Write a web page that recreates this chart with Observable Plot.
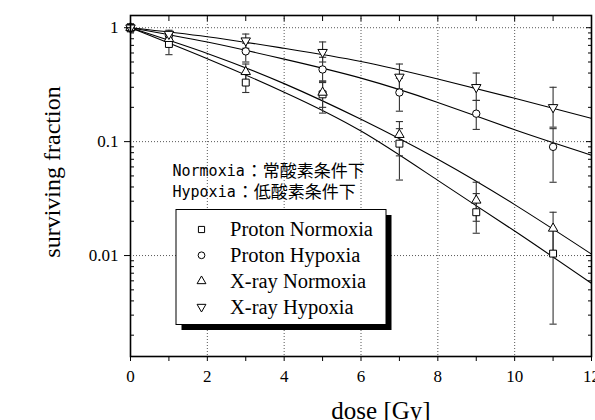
<!DOCTYPE html>
<html><head><meta charset="utf-8">
<script src="https://cdn.jsdelivr.net/npm/d3@7"></script>
<script src="https://cdn.jsdelivr.net/npm/@observablehq/plot@0.6"></script>
<style>body{margin:0;background:#fff}</style>
</head><body><div id="chart"></div>
<script>
// ---- data ----
const doses = [0, 1, 3, 5, 7, 9, 11];
const seriesNames = ["Proton Normoxia", "Proton Hypoxia", "X-ray Normoxia", "X-ray Hypoxia"];

const protonNormoxia   = [1.0, 0.72, 0.33, 0.26, 0.096, 0.024, 0.0104];
const protonNormoxiaLo = [0.92, 0.58, 0.27, 0.178, 0.046, 0.0157, 0.0025];
const protonNormoxiaHi = [1.08, 0.91, 0.40, 0.33, 0.13, 0.035, 0.017];

const protonHypoxia   = [1.0, 0.85, 0.62, 0.43, 0.27, 0.176, 0.090];
const protonHypoxiaLo = [0.93, 0.78, 0.50, 0.34, 0.185, 0.128, 0.044];
const protonHypoxiaHi = [1.07, 0.93, 0.73, 0.55, 0.36, 0.23, 0.13];

const xrayNormoxia   = [1.0, 0.80, 0.41, 0.27, 0.115, 0.0305, 0.0173];
const xrayNormoxiaLo = [0.93, 0.70, 0.34, 0.20, 0.075, 0.020, 0.011];
const xrayNormoxiaHi = [1.07, 0.88, 0.48, 0.34, 0.15, 0.044, 0.024];

const xrayHypoxia   = [1.0, 0.88, 0.77, 0.61, 0.37, 0.30, 0.20];
const xrayHypoxiaLo = [0.93, 0.80, 0.66, 0.50, 0.29, 0.23, 0.134];
const xrayHypoxiaHi = [1.07, 0.95, 0.88, 0.75, 0.48, 0.40, 0.30];

// fitted curves, read at these doses
const fitDoses = [0, 2, 4, 6, 8, 10, 12];
const fitProtonNormoxia = [1.0, 0.535, 0.272, 0.124, 0.0457, 0.0164, 0.0057];
const fitProtonHypoxia  = [1.0, 0.748, 0.53, 0.361, 0.221, 0.127, 0.076];
const fitXrayNormoxia   = [1.0, 0.595, 0.323, 0.157, 0.070, 0.028, 0.0103];
const fitXrayHypoxia    = [1.0, 0.834, 0.66, 0.506, 0.355, 0.24, 0.16];

// ticks
const xTicks = [0,1,2,3,4,5,6,7,8,9,10,11,12];
const xTickLabels = ["0","","2","","4","","6","","8","","10","","12"];
const xGrid = [2,4,6,8,10];
const yTicks = [1, 0.1, 0.01];
const yTickLabels = ["1", "0.1", "0.01"];
const yMinorTicks = [0.002,0.003,0.004,0.005,0.006,0.007,0.008,0.009,
                     0.02,0.03,0.04,0.05,0.06,0.07,0.08,0.09,
                     0.2,0.3,0.4,0.5,0.6,0.7,0.8,0.9];
const notes = [["Normoxia", "：常酸素条件下"], ["Hypoxia", "：低酸素条件下"]];
const xLabel = "dose [Gy]";
const yLabel = "surviving fraction";

// ---- build tables ----
const seriesValues = [
  [protonNormoxia, protonNormoxiaLo, protonNormoxiaHi, fitProtonNormoxia],
  [protonHypoxia, protonHypoxiaLo, protonHypoxiaHi, fitProtonHypoxia],
  [xrayNormoxia, xrayNormoxiaLo, xrayNormoxiaHi, fitXrayNormoxia],
  [xrayHypoxia, xrayHypoxiaLo, xrayHypoxiaHi, fitXrayHypoxia]
];
const points = [];
const fits = [];
seriesNames.forEach((name, s) => {
  const [v, lo, hi, fit] = seriesValues[s];
  doses.forEach((d, i) => points.push({series: name, dose: d, sf: v[i], lo: lo[i], hi: hi[i]}));
  fitDoses.forEach((d, i) => fits.push({series: name, dose: d, sf: fit[i]}));
});

// custom symbols
const sqrt3 = Math.sqrt(3);
const capSymbol = {draw(ctx, size) { const h = Math.sqrt(size / Math.PI); ctx.moveTo(-h, 0); ctx.lineTo(h, 0); }};
const triangleDown = {draw(ctx, size) {
  const y = -Math.sqrt(size / (sqrt3 * 3));
  ctx.moveTo(0, -y * 2); ctx.lineTo(-sqrt3 * y, y); ctx.lineTo(sqrt3 * y, y); ctx.closePath();
}};
const symbolStyle = {
  "Proton Normoxia": {symbol: "square", r: 3.9},
  "Proton Hypoxia": {symbol: "circle", r: 3.7},
  "X-ray Normoxia": {symbol: "triangle", r: 3.5},
  "X-ray Hypoxia": {symbol: triangleDown, r: 3.5}
};

const xLabelMap = new Map(xTicks.map((t, i) => [t, xTickLabels[i]]));
const yLabelMap = new Map(yTicks.map((t, i) => [t, yTickLabels[i]]));

const gridStyle = {stroke: "#444", strokeOpacity: 1, strokeWidth: 0.9, strokeDasharray: "1,2"};
const errColor = "#333";

const noteFont = 15, monoAdvance = 0.602 * noteFont;
const noteMarks = notes.flatMap(([latin, jp], i) => [
  Plot.text([latin], {text: d => d, frameAnchor: "top-left", dx: 42, dy: 156 + i * 21,
    textAnchor: "start", lineAnchor: "middle", fontFamily: "DejaVu Sans Mono", fontSize: noteFont, fill: "black"}),
  Plot.text([jp], {text: d => d, frameAnchor: "top-left", dx: 43 + latin.length * monoAdvance, dy: 156 + i * 21,
    textAnchor: "start", lineAnchor: "middle", fontFamily: "Noto Sans CJK JP", fontSize: 17, fill: "black",
    style: "letter-spacing:2.2px"})
]);

const chart = Plot.plot({
  width: 595, height: 420,
  marginLeft: 130, marginRight: 4, marginTop: 15, marginBottom: 64,
  style: {fontFamily: "'Liberation Serif', 'Times New Roman', serif", fontSize: "17px", color: "black", background: "white"},
  x: {domain: [0, 12]},
  y: {type: "log", domain: [0.0013, 1.28]},
  marks: [
    Plot.gridX(xGrid, gridStyle),
    Plot.gridY(yTicks, gridStyle),
    ...seriesNames.map(name => Plot.line(fits.filter(d => d.series === name),
      {x: "dose", y: "sf", curve: "natural", stroke: "black", strokeWidth: 1.1})),
    Plot.ruleX(points, {x: "dose", y1: "lo", y2: "hi", stroke: errColor, strokeWidth: 1.1}),
    Plot.dot(points, {x: "dose", y: "lo", symbol: capSymbol, r: 3.6, fill: "none", stroke: errColor, strokeWidth: 1.1}),
    Plot.dot(points, {x: "dose", y: "hi", symbol: capSymbol, r: 3.6, fill: "none", stroke: errColor, strokeWidth: 1.1}),
    ...seriesNames.map(name => Plot.dot(points.filter(d => d.series === name),
      {x: "dose", y: "sf", symbol: symbolStyle[name].symbol, r: symbolStyle[name].r, fill: "white", stroke: "black", strokeWidth: 1})),
    ...noteMarks,
    Plot.frame({stroke: "black", strokeWidth: 1.6}),
    Plot.axisX({ticks: xTicks, tickSize: 5, tickPadding: 8, tickFormat: d => xLabelMap.get(d), label: null}),
    Plot.axisX({anchor: "top", ticks: xTicks, tickSize: -5, tickFormat: () => "", label: null}),
    Plot.axisY({anchor: "left", ticks: yTicks, tickSize: 6, tickPadding: 6, tickFormat: d => yLabelMap.get(d), label: null}),
    Plot.axisY({anchor: "left", ticks: yMinorTicks, tickSize: -4, tickFormat: () => "", label: null}),
    Plot.axisY({anchor: "right", ticks: yTicks, tickSize: -6, tickFormat: () => "", label: null}),
    Plot.axisY({anchor: "right", ticks: yMinorTicks, tickSize: -4, tickFormat: () => "", label: null}),
    Plot.text([xLabel], {text: d => d, frameAnchor: "bottom", dx: 20, dy: 54, textAnchor: "middle", lineAnchor: "middle", fontSize: 25, fill: "black"}),
    Plot.text([yLabel], {text: d => d, frameAnchor: "left", dx: -78, dy: -14, rotate: -90, textAnchor: "middle", lineAnchor: "middle", fontSize: 24, fill: "black"})
  ]
});
document.getElementById("chart").appendChild(chart);

// ---- legend box with drop shadow ----
const svg = d3.select(chart);
const lg = svg.append("g").attr("class", "legend").attr("text-anchor", "start");
const box = {x: 176, y: 209.5, w: 210, h: 115, shadow: 5.5};
lg.append("rect").attr("x", box.x + box.shadow).attr("y", box.y + box.shadow)
  .attr("width", box.w).attr("height", box.h).attr("fill", "black");
lg.append("rect").attr("x", box.x).attr("y", box.y).attr("width", box.w).attr("height", box.h)
  .attr("fill", "white").attr("stroke", "black").attr("stroke-width", 1);
const d3sym = {
  "Proton Normoxia": d3.symbol(d3.symbolSquare, 38)(),
  "Proton Hypoxia": d3.symbol(d3.symbolCircle, 36)(),
  "X-ray Normoxia": d3.symbol(d3.symbolTriangle, 34)(),
  "X-ray Hypoxia": d3.symbol(triangleDown, 34)()
};
seriesNames.forEach((name, i) => {
  const cy = 229.5 + i * 25.8;
  lg.append("path").attr("d", d3sym[name]).attr("transform", `translate(201.5,${cy})`)
    .attr("fill", "white").attr("stroke", "black").attr("stroke-width", 1);
  lg.append("text").attr("x", 230).attr("y", cy).attr("dy", "0.33em").attr("text-anchor", "start")
    .attr("font-size", 20.5).attr("fill", "black").text(name);
});
</script>
</body></html>
